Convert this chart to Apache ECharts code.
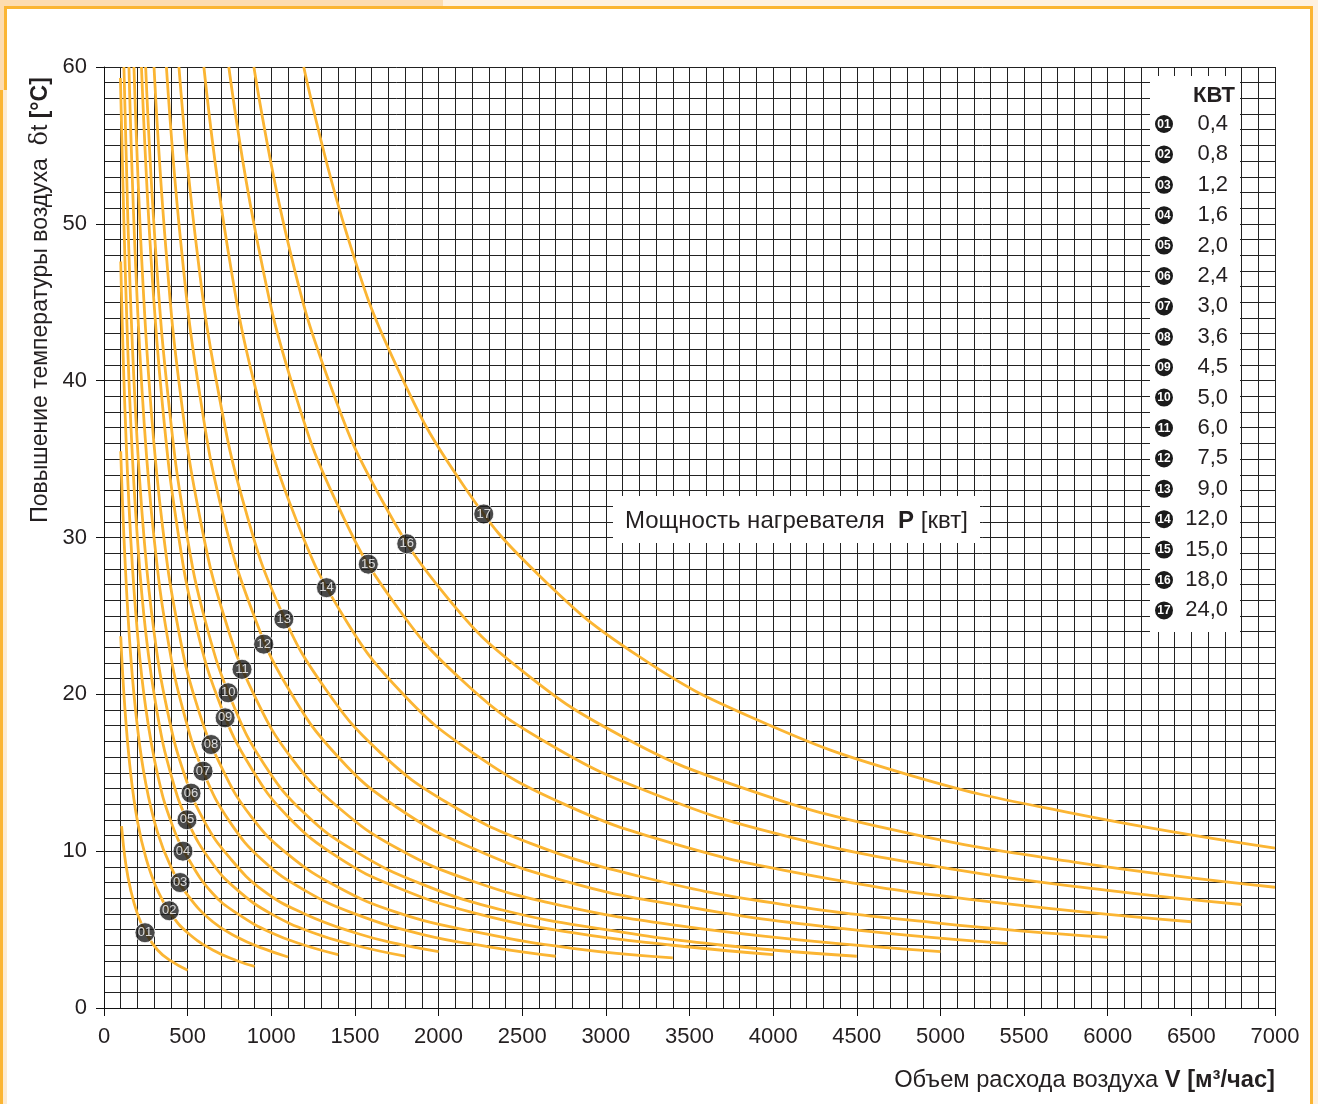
<!DOCTYPE html>
<html>
<head>
<meta charset="utf-8">
<script src="https://cdn.jsdelivr.net/npm/echarts@6/dist/echarts.min.js"></script>
<style>
  html, body { margin: 0; padding: 0; background: #ffffff; }
  #chart { width: 1318px; height: 1104px; }
</style>
</head>
<body>
<div id="chart"></div>
<script>
// Air temperature rise δt [°C] against air flow V [m³/h] for each heater power.
const curveIds = ['01','02','03','04','05','06','07','08','09','10','11','12','13','14','15','16','17'];
const powerLabels = ['0,4','0,8','1,2','1,6','2,0','2,4','3,0','3,6','4,5','5,0','6,0','7,5','9,0','12,0','15,0','18,0','24,0'];

// [V, δt] points along each curve
const c01 = [[105,11.6],[130,9.2],[160,7.5],[200,6.0],[250,4.8],[320,3.7],[400,3.0],[500,2.4]];
const c02 = [[100,23.7],[125,19.1],[160,14.9],[200,11.9],[250,9.6],[320,7.5],[400,6.0],[500,4.8],[650,3.7],[800,3.0],[900,2.65]];
const c03 = [[100,35.5],[125,28.7],[160,22.4],[200,17.9],[250,14.3],[320,11.2],[400,9.0],[500,7.2],[650,5.5],[800,4.5],[950,3.8],[1100,3.25]];
const c04 = [[100,47.6],[125,38.2],[160,29.9],[200,23.9],[250,19.1],[320,14.9],[400,11.9],[500,9.6],[650,7.3],[800,6.0],[1000,4.8],[1200,4.0],[1400,3.4]];
const c05 = [[98,59.3],[125,47.8],[160,37.3],[200,29.9],[250,23.9],[320,18.7],[400,14.9],[500,11.9],[650,9.2],[800,7.5],[1000,6.0],[1250,4.8],[1500,4.0],[1800,3.3]];
const c06 = [[119,60],[150,47.8],[190,37.7],[240,29.9],[300,23.9],[380,18.9],[480,14.9],[600,11.9],[750,9.6],[950,7.5],[1200,6.0],[1500,4.8],[1750,4.1],[2000,3.6]];
const c07 = [[149,60],[190,47.1],[240,37.3],[300,29.9],[380,23.6],[480,18.7],[600,14.9],[750,11.9],[950,9.4],[1200,7.5],[1500,6.0],[1900,4.7],[2300,3.9],[2700,3.3]];
const c08 = [[179,60],[225,47.8],[280,38.4],[350,30.7],[440,24.4],[550,19.5],[700,15.4],[880,12.2],[1100,9.8],[1400,7.7],[1750,6.1],[2200,4.9],[2800,3.8],[3400,3.2]];
const c09 = [[224,60],[280,48.0],[350,38.4],[440,30.5],[550,24.4],[700,19.2],[880,15.3],[1100,12.2],[1400,9.6],[1750,7.7],[2200,6.1],[2800,4.8],[3400,4.0],[4000,3.4]];
const c10 = [[249,60],[310,48.1],[390,38.3],[490,30.5],[610,24.5],[770,19.4],[960,15.5],[1200,12.4],[1500,10.0],[1900,7.9],[2400,6.2],[3000,5.0],[3700,4.0],[4500,3.3]];
const c11 = [[299,60],[370,48.4],[460,38.9],[580,30.9],[720,24.9],[900,19.9],[1130,15.8],[1400,12.8],[1750,10.2],[2200,8.1],[2750,6.5],[3400,5.3],[4200,4.3],[5000,3.6]];
const c12 = [[373,60],[460,48.7],[570,39.3],[710,31.5],[890,25.2],[1100,20.4],[1400,16.0],[1750,12.8],[2200,10.2],[2750,8.1],[3400,6.6],[4300,5.2],[5400,4.1]];
const c13 = [[448,60],[550,48.8],[680,39.5],[850,31.6],[1060,25.3],[1320,20.4],[1650,16.3],[2050,13.1],[2550,10.5],[3200,8.4],[4000,6.7],[5000,5.4],[6000,4.5]];
const c14 = [[597,60],[740,48.4],[920,38.9],[1150,31.1],[1430,25.0],[1780,20.1],[2200,16.3],[2750,13.0],[3400,10.5],[4200,8.5],[5200,6.9],[6500,5.5]];
const c15 = [[746,60],[920,48.7],[1130,39.6],[1400,32.0],[1730,25.9],[2150,20.8],[2650,16.9],[3300,13.6],[4100,10.9],[5100,8.8],[6000,7.5],[6800,6.6]];
const c16 = [[896,60],[1100,48.8],[1350,39.8],[1650,32.6],[2050,26.2],[2500,21.5],[3100,17.3],[3800,14.1],[4700,11.4],[5800,9.3],[7000,7.7]];
const c17 = [[1194,60],[1450,49.4],[1750,40.9],[2150,33.3],[2600,27.6],[3200,22.4],[3900,18.4],[4800,14.9],[5800,12.4],[7000,10.2]];
const curves = [c01,c02,c03,c04,c05,c06,c07,c08,c09,c10,c11,c12,c13,c14,c15,c16,c17];

// numbered badge position on each curve
const markerV  = [245, 390, 455, 472, 496, 520, 592, 640, 724, 742, 825, 955, 1075, 1330, 1580, 1810, 2270];
const markerDt = [4.8, 6.2, 8.0, 10.0, 12.0, 13.7, 15.1, 16.8, 18.5, 20.1, 21.6, 23.2, 24.8, 26.8, 28.3, 29.6, 31.5];

const xTicks = { min: 0, max: 7000, step: 500, minorSteps: 5 };
const yTicks = { min: 0, max: 60, step: 10, minorSteps: 10 };

const FONT = '"Liberation Sans", Arial, Helvetica, sans-serif';
const NARROW = '"Liberation Sans Narrow", "Liberation Sans", Arial, sans-serif';
const INK = '#231f20';
const CURVE = '#fbb533';
const GRIDC = '#222222';
const FRAME = '#fbb533';

const chart = echarts.init(document.getElementById('chart'), null, { renderer: 'canvas' });

const lineSeries = curves.map((pts, i) => ({
  type: 'line',
  name: curveIds[i],
  data: pts,
  smooth: 0.45,
  showSymbol: false,
  silent: true,
  z: 3,
  lineStyle: { color: CURVE, width: 2.8 },
  clip: true
}));

const badgeSeries = {
  type: 'scatter',
  data: markerV.map((v, i) => [v, markerDt[i], curveIds[i]]),
  symbol: 'circle',
  symbolSize: 20,
  z: 5,
  itemStyle: { color: '#1b1b1b', borderColor: '#ffffff', borderWidth: 1 },
  label: {
    show: true,
    position: 'inside',
    formatter: p => p.value[2],
    color: '#ffffff',
    fontSize: 13,
    fontFamily: NARROW
  },
  silent: true
};

// legend box with numbered badges and power values
const legendX = 1150, legendY = 76, legendW = 90, legendH = 556;
const rowTop = 124, rowStep = 30.4;
const legendEls = [
  { type: 'rect', shape: { x: legendX, y: legendY, width: legendW, height: legendH }, style: { fill: '#ffffff' }, z: 10 },
  { type: 'text', x: 1214, y: 96, z: 11,
    style: { text: 'КВТ', fill: INK, font: 'bold 22px ' + FONT, align: 'center', verticalAlign: 'middle', textAlign: 'center', textVerticalAlign: 'middle' } }
];
powerLabels.forEach((lab, i) => {
  const cy = rowTop + i * rowStep;
  legendEls.push({ type: 'circle', shape: { cx: 1164, cy: cy, r: 9 }, style: { fill: '#1b1b1b' }, z: 11 });
  legendEls.push({ type: 'text', x: 1164, y: cy + 0.5, z: 12,
    style: { text: curveIds[i], fill: '#ffffff', font: 'bold 12px ' + NARROW, align: 'center', verticalAlign: 'middle', textAlign: 'center', textVerticalAlign: 'middle' } });
  legendEls.push({ type: 'text', x: 1228, y: cy, z: 11,
    style: { text: lab, fill: INK, font: '22px ' + FONT, align: 'right', verticalAlign: 'middle', textAlign: 'right', textVerticalAlign: 'middle' } });
});

const frameEls = [
  // tinted margins
  { type: 'rect', shape: { x: 0, y: 0, width: 443, height: 6 }, style: { fill: '#fddcb0' }, z: 1 },
  { type: 'rect', shape: { x: 443, y: 0, width: 875, height: 6 }, style: { fill: '#fef1e1' }, z: 1 },
  { type: 'rect', shape: { x: 1313, y: 0, width: 5, height: 1104 }, style: { fill: '#fef1e1' }, z: 1 },
  { type: 'rect', shape: { x: 0, y: 0, width: 4, height: 90 }, style: { fill: '#fddcb0' }, z: 1 },
  { type: 'rect', shape: { x: 3, y: 90, width: 4, height: 1014 }, style: { fill: '#fdebd2' }, z: 1 },
  // orange frame lines
  { type: 'rect', shape: { x: 4, y: 6, width: 1309, height: 3 }, style: { fill: FRAME }, z: 2 },
  { type: 'rect', shape: { x: 1310, y: 6, width: 3, height: 1098 }, style: { fill: FRAME }, z: 2 },
  { type: 'rect', shape: { x: 4, y: 6, width: 3, height: 84 }, style: { fill: FRAME }, z: 2 },
  { type: 'rect', shape: { x: 0, y: 90, width: 3, height: 1014 }, style: { fill: FRAME }, z: 2 }
];

const textEls = [
  // power annotation box
  { type: 'rect', shape: { x: 613, y: 496, width: 367, height: 47 }, style: { fill: '#ffffff' }, z: 10 },
  { type: 'text', x: 625, y: 521, z: 11,
    style: { text: 'Мощность нагревателя  {b|P} [квт]', fill: INK, font: '24px ' + FONT,
      align: 'left', verticalAlign: 'middle', textAlign: 'left', textVerticalAlign: 'middle',
      rich: { b: { fontWeight: 'bold', fontSize: 24, fontFamily: FONT, fill: INK, color: INK } } } },
  // x axis title
  { type: 'text', x: 1275, y: 1080, z: 11,
    style: { text: 'Объем расхода воздуха {b|V [м³/час]}', fill: INK, font: '23.7px ' + FONT,
      align: 'right', verticalAlign: 'middle', textAlign: 'right', textVerticalAlign: 'middle',
      rich: { b: { fontWeight: 'bold', fontSize: 23.7, fontFamily: FONT, fill: INK, color: INK } } } },
  // y axis title
  { type: 'text', x: 41, y: 300, rotation: Math.PI / 2, z: 11,
    style: { text: 'Повышение температуры воздуха  {s|δ}t {b|[°C]}', fill: INK, font: '23px ' + FONT,
      align: 'center', verticalAlign: 'middle', textAlign: 'center', textVerticalAlign: 'middle',
      rich: {
        s: { fontSize: 24, fontFamily: '"DejaVu Serif", "Liberation Serif", serif', fill: INK, color: INK },
        b: { fontWeight: 'bold', fontSize: 23, fontFamily: FONT, fill: INK, color: INK }
      } } }
];

const option = {
  backgroundColor: '#ffffff',
  animation: false,
  grid: { left: 104, top: 67, right: 43, bottom: 96, containLabel: false, show: false },
  xAxis: {
    type: 'value',
    min: xTicks.min, max: xTicks.max, interval: xTicks.step,
    axisLine: { show: true, onZero: false, lineStyle: { color: '#111', width: 1 } },
    axisTick: { show: true, length: 8, lineStyle: { color: '#111' } },
    minorTick: { show: false, splitNumber: xTicks.minorSteps },
    splitLine: { show: true, lineStyle: { color: GRIDC, width: 1 } },
    minorSplitLine: { show: true, lineStyle: { color: GRIDC, width: 1 } },
    axisLabel: { color: INK, fontSize: 22, fontFamily: FONT, margin: 18, formatter: v => String(v) }
  },
  yAxis: {
    type: 'value',
    min: yTicks.min, max: yTicks.max, interval: yTicks.step,
    axisLine: { show: true, onZero: false, lineStyle: { color: '#111', width: 1 } },
    axisTick: { show: true, length: 8, lineStyle: { color: '#111' } },
    minorTick: { show: false, splitNumber: yTicks.minorSteps },
    splitLine: { show: true, lineStyle: { color: GRIDC, width: 1 } },
    minorSplitLine: { show: true, lineStyle: { color: GRIDC, width: 1 } },
    axisLabel: { color: INK, fontSize: 22, fontFamily: FONT, margin: 17, formatter: v => String(v) }
  },
  series: lineSeries.concat([badgeSeries]),
  graphic: { elements: frameEls.concat(legendEls, textEls) }
};

chart.setOption(option);
</script>
</body>
</html>
